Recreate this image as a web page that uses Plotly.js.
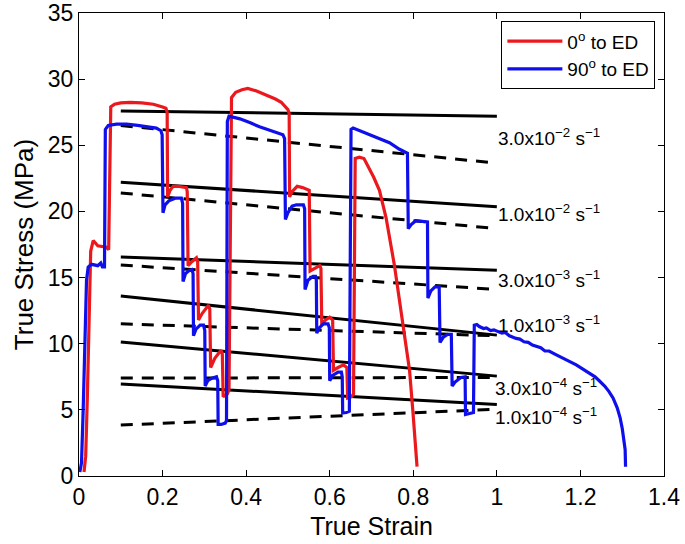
<!DOCTYPE html>
<html>
<head>
<meta charset="utf-8">
<script src="https://cdn.plot.ly/plotly-3.0.1.min.js"></script>
<style>html,body{margin:0;padding:0;background:#fff;}#chart{width:685px;height:544px;}</style>
</head>
<body>
<div id="chart"></div>
<script>
// ---- data ----
const seriesNames = ["0<sup>o</sup> to ED", "90<sup>o</sup> to ED"];

const redX = [0.012,0.016,0.020,0.024,0.028,0.034,0.045,0.066,0.071,0.076,0.085,0.100,0.122,0.150,0.178,0.200,0.208,0.211,0.212,0.218,0.225,0.237,0.257,0.259,0.261,0.270,0.281,0.284,0.286,0.295,0.310,0.313,0.315,0.325,0.340,0.343,0.345,0.355,0.359,0.365,0.375,0.390,0.404,0.425,0.448,0.470,0.484,0.500,0.503,0.504,0.510,0.522,0.535,0.551,0.553,0.565,0.576,0.579,0.581,0.590,0.600,0.607,0.609,0.620,0.633,0.641,0.643,0.652,0.657,0.661,0.671,0.682,0.692,0.705,0.719,0.735,0.755,0.775,0.791,0.799,0.804,0.809];
const redY = [0.3,1.5,6.0,13.0,17.0,17.8,17.4,17.3,17.1,27.9,28.1,28.2,28.25,28.2,28.1,27.9,27.8,27.5,21.1,21.6,21.9,21.9,21.8,21.5,15.9,16.2,16.5,16.2,11.8,12.3,12.9,12.6,8.2,8.9,9.5,9.2,6.0,6.2,6.5,28.6,29.0,29.2,29.3,29.1,28.8,28.5,28.25,27.7,27.4,21.1,21.5,21.9,21.8,21.6,15.5,15.7,15.9,15.7,11.4,11.8,12.0,11.8,8.0,8.2,8.4,8.2,5.9,6.0,6.2,24.0,24.1,24.0,23.4,22.6,21.6,19.5,15.9,11.5,8.0,4.9,3.0,0.7];

const blueX = [0.002,0.006,0.010,0.014,0.018,0.022,0.030,0.045,0.052,0.056,0.061,0.063,0.070,0.090,0.114,0.140,0.162,0.185,0.196,0.199,0.201,0.206,0.215,0.230,0.245,0.248,0.249,0.255,0.262,0.270,0.273,0.274,0.280,0.290,0.298,0.301,0.302,0.308,0.318,0.329,0.332,0.333,0.340,0.350,0.353,0.355,0.359,0.370,0.385,0.410,0.432,0.460,0.488,0.492,0.494,0.500,0.510,0.520,0.537,0.540,0.541,0.548,0.560,0.566,0.568,0.569,0.575,0.585,0.596,0.599,0.600,0.607,0.620,0.628,0.630,0.631,0.640,0.647,0.651,0.656,0.671,0.703,0.743,0.767,0.786,0.788,0.795,0.806,0.834,0.835,0.842,0.852,0.862,0.864,0.872,0.882,0.891,0.893,0.900,0.914,0.924,0.925,0.935,0.944,0.946,0.952,0.958,0.968,0.975,0.985,0.993,1.002,1.012,1.020,1.030,1.046,1.055,1.065,1.075,1.085,1.095,1.105,1.115,1.125,1.140,1.150,1.165,1.180,1.190,1.205,1.220,1.235,1.245,1.258,1.268,1.278,1.288,1.295,1.300,1.304,1.307,1.308];
const blueY = [0.3,1.0,5.0,11.0,14.8,15.8,16.0,15.9,16.1,15.8,15.8,26.2,26.5,26.6,26.6,26.5,26.4,26.3,26.1,25.8,19.9,20.5,20.8,21.0,21.0,20.6,14.7,15.3,15.5,15.6,15.3,10.6,11.1,11.4,11.4,11.0,6.8,7.2,7.4,7.5,7.2,3.9,3.9,4.0,4.2,26.8,27.2,27.1,27.0,26.7,26.4,26.1,25.8,25.5,19.4,19.9,20.4,20.5,20.5,20.2,14.1,14.8,15.1,15.1,14.8,10.8,11.2,11.5,11.5,11.2,7.2,7.6,7.85,7.85,7.5,4.77,4.8,4.9,26.2,26.3,26.1,25.7,25.2,24.7,24.4,18.7,19.0,19.3,19.2,13.45,14.0,14.3,14.3,10.1,10.5,10.7,10.7,6.8,7.1,7.45,7.5,4.65,4.7,4.8,11.4,11.45,11.3,11.15,11.2,11.0,11.05,10.9,10.8,10.85,10.6,10.4,10.35,10.15,10.1,9.9,9.8,9.7,9.45,9.45,9.2,9.05,8.8,8.55,8.4,8.1,7.8,7.5,7.2,6.8,6.4,5.9,5.15,4.4,3.6,2.8,2.0,0.7];

// fitted rate lines: solid (0 deg) and dashed (90 deg), from strain 0.1 to 1.0
const lineStrain = [0.1, 1.0];
const rateLabels = ["3.0x10<sup>−2</sup> s<sup>−1</sup>","1.0x10<sup>−2</sup> s<sup>−1</sup>","3.0x10<sup>−3</sup> s<sup>−1</sup>","1.0x10<sup>−3</sup> s<sup>−1</sup>","3.0x10<sup>−4</sup> s<sup>−1</sup>","1.0x10<sup>−4</sup> s<sup>−1</sup>"];
const solidStart = [27.6, 22.2, 16.55, 13.6, 10.13, 6.95];
const solidEnd   = [27.2, 20.35, 15.55, 10.65, 7.55, 5.4];
const dashStart  = [26.5, 21.4, 15.95, 11.5, 7.4, 3.85];
const dashEnd    = [23.65, 18.7, 14.1, 10.6, 7.45, 5.05];
const labelY     = [25.6, 19.9, 14.9, 11.5, 6.75, 4.55];
const labelX     = [0.998, 0.998, 0.998, 0.998, 0.99, 0.99];

const xTicks = [0,0.2,0.4,0.6,0.8,1,1.2,1.4];
const xTickText = ["0","0.2","0.4","0.6","0.8","1","1.2","1.4"];
const yTicks = [0,5,10,15,20,25,30,35];

// ---- traces ----
const traces = [];
for (let i = 0; i < rateLabels.length; i++) {
  traces.push({x: lineStrain, y: [solidStart[i], solidEnd[i]], mode: 'lines', showlegend: false, hoverinfo: 'skip',
    line: {color: '#000', width: 3}});
  traces.push({x: lineStrain, y: [dashStart[i], dashEnd[i]], mode: 'lines', showlegend: false, hoverinfo: 'skip',
    line: {color: '#000', width: 3, dash: '12px,9px'}});
}
traces.push({x: redX, y: redY, mode: 'lines', name: seriesNames[0], line: {color: 'rgb(235,25,30)', width: 3.2}});
traces.push({x: blueX, y: blueY, mode: 'lines', name: seriesNames[1], line: {color: 'rgb(15,15,235)', width: 3.2}});

const annotations = rateLabels.map((t, i) => ({
  x: labelX[i], y: labelY[i], xref: 'x', yref: 'y', text: t, showarrow: false,
  xanchor: 'left', yanchor: 'middle', font: {family: 'Liberation Sans, Arial, sans-serif', size: 19, color: '#000'}
}));

const axisCommon = {
  showline: true, linecolor: '#000', linewidth: 1, mirror: 'ticks', ticks: 'inside', ticklen: 6,
  tickcolor: '#000', showgrid: false, zeroline: false,
  tickfont: {family: 'Liberation Sans, Arial, sans-serif', size: 23, color: '#000'}
};

const layout = {
  width: 685, height: 544,
  margin: {l: 79, r: 21, t: 13, b: 68},
  paper_bgcolor: '#fff', plot_bgcolor: '#fff',
  font: {family: 'Liberation Sans, Arial, sans-serif', color: '#000'},
  xaxis: Object.assign({}, axisCommon, {range: [0, 1.4], tickvals: xTicks, ticktext: xTickText,
    title: {text: 'True Strain', font: {size: 25, color: '#000'}, standoff: 8}}),
  yaxis: Object.assign({}, axisCommon, {range: [0, 35], tickvals: yTicks,
    title: {text: 'True Stress (MPa)', font: {size: 26, color: '#000'}, standoff: 6}}),
  showlegend: true,
  legend: {x: 0.722, y: 0.982, xanchor: 'left', yanchor: 'top', bgcolor: '#fff', bordercolor: '#000', borderwidth: 1,
    font: {size: 19, color: '#000'}, itemwidth: 55, tracegroupgap: 0},
  annotations: annotations
};

Plotly.newPlot('chart', traces, layout, {displayModeBar: false});
</script>
</body>
</html>
